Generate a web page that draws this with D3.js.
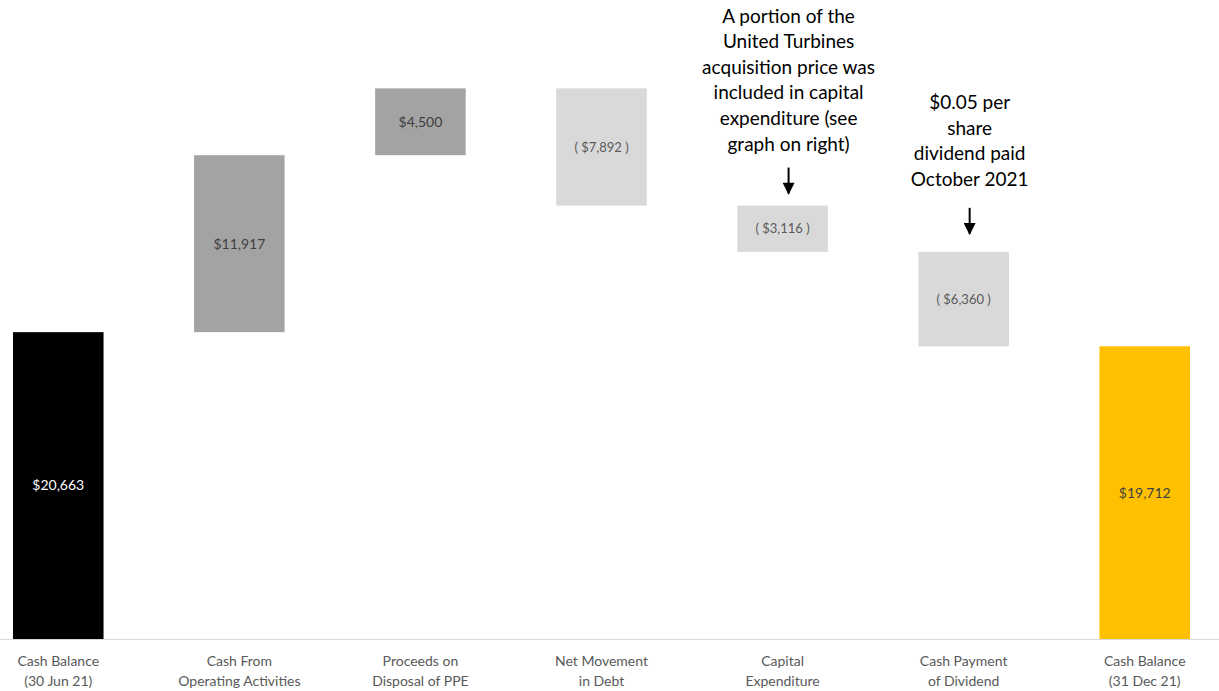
<!DOCTYPE html>
<html>
    <head>
        <meta charset="utf-8" />
        <title>Cash Waterfall</title>
        <script src="https://d3js.org/d3.v7.min.js"></script>
        <style>
            body { margin: 0; background: #fff; }
            text { font-family: Lato, "Open Sans", sans-serif; }
        </style>
    </head>
    <body>
        <div id="chart"></div>

    <script>

        // categories, two lines each
        const categories = [
            ["Cash Balance", "(30 Jun 21)"],
            ["Cash From", "Operating Activities"],
            ["Proceeds on", "Disposal of PPE"],
            ["Net Movement", "in Debt"],
            ["Capital", "Expenditure"],
            ["Cash Payment", "of Dividend"],
            ["Cash Balance", "(31 Dec 21)"]
        ]
        const values = [20663, 11917, 4500, -7892, -3116, -6360, 19712]
        const barKinds = ["total", "up", "up", "down", "down", "down", "total"]
        const barColors = ["#000000", "#a3a3a3", "#a3a3a3", "#d9d9d9", "#d9d9d9", "#d9d9d9", "#ffc000"]
        const labelColors = ["#ffffff", "#404040", "#404040", "#595959", "#595959", "#595959", "#404040"]

        const notes = [
            {idx: 4, gap: 10, textGap: 45, lines: ["A portion of the", "United Turbines", "acquisition price was", "included in capital", "expenditure (see", "graph on right)"]},
            {idx: 5, gap: 16, textGap: 50, lines: ["$0.05 per", "share", "dividend paid", "October 2021"]}
        ]

        const width = 1219, height = 691

        const svg = d3.select("#chart")
                        .append("svg")
                            .attr("width", width)
                            .attr("height", height)

        const x = d3.scaleBand()
                    .domain(d3.range(categories.length))
                    .range([13, 1190])
                    .paddingInner(0.5)
                    .paddingOuter(0)

        const y = d3.scaleLinear()
                    .domain([0, 40000])
                    .range([639, 45])

        // running totals for the floating bars
        let run = 0
        const bars = values.map(function(v, i) {
            let lo, hi
            if (barKinds[i] == "total") {
                lo = 0; hi = v; run = v
            } else {
                lo = Math.min(run, run + v); hi = Math.max(run, run + v); run = run + v
            }
            return {i: i, v: v, lo: lo, hi: hi}
        })

        const fmt = d3.format(",")

        svg.selectAll("rect.bar")
            .data(bars)
            .join("rect")
                .attr("class", "bar")
                .attr("x", d => x(d.i))
                .attr("width", x.bandwidth())
                .attr("y", d => y(d.hi))
                .attr("height", d => y(d.lo) - y(d.hi))
                .style("fill", d => barColors[d.i])

        svg.selectAll("text.val")
            .data(bars)
            .join("text")
                .attr("class", "val")
                .attr("x", d => x(d.i) + x.bandwidth() / 2)
                .attr("y", d => (y(d.lo) + y(d.hi)) / 2)
                .attr("dy", "0.35em")
                .attr("text-anchor", "middle")
                .style("font-size", d => d.v < 0 ? "13px" : "14px")
                .style("fill", d => labelColors[d.i])
                .text(d => d.v < 0 ? "( $" + fmt(-d.v) + " )" : "$" + fmt(d.v))

        // baseline
        svg.append("line")
            .attr("x1", 0).attr("x2", width)
            .attr("y1", y(0) + 0.5).attr("y2", y(0) + 0.5)
            .attr("stroke", "#d9d9d9")
            .attr("stroke-width", 1)

        const xAxis = svg.append("g")
        categories.forEach(function(c, i) {
            const t = xAxis.append("text")
                .attr("x", x(i) + x.bandwidth() / 2)
                .attr("y", 666)
                .attr("text-anchor", "middle")
                .style("font-size", "14px")
                .style("fill", "#595959")
            t.append("tspan").attr("x", x(i) + x.bandwidth() / 2).text(c[0])
            t.append("tspan").attr("x", x(i) + x.bandwidth() / 2).attr("dy", 20).text(c[1])
        })

        // annotations with arrows pointing at the bar tops
        svg.append("defs").append("marker")
            .attr("id", "head")
            .attr("viewBox", "0 0 10 10")
            .attr("refX", 9).attr("refY", 5)
            .attr("markerWidth", 13).attr("markerHeight", 12)
            .attr("markerUnits", "userSpaceOnUse")
            .attr("orient", "auto")
            .append("path")
                .attr("d", "M0,0 L10,5 L0,10 Z")
                .attr("fill", "#000")

        notes.forEach(function(n) {
            const b = bars[n.idx]
            const cx = x(n.idx) + x.bandwidth() / 2 + 6
            const tip = y(b.hi) - n.gap
            svg.append("line")
                .attr("x1", cx).attr("x2", cx)
                .attr("y1", tip - 28).attr("y2", tip - 2)
                .attr("stroke", "#000")
                .attr("stroke-width", 2)
                .attr("marker-end", "url(#head)")
            const lastY = tip - n.textGap
            n.lines.forEach(function(l, k) {
                svg.append("text")
                    .attr("x", cx)
                    .attr("y", lastY - (n.lines.length - 1 - k) * 25.6)
                    .attr("text-anchor", "middle")
                    .style("font-size", "19px")
                    .style("fill", "#000")
                    .text(l)
            })
        })

    </script>
    </body>
</html>
